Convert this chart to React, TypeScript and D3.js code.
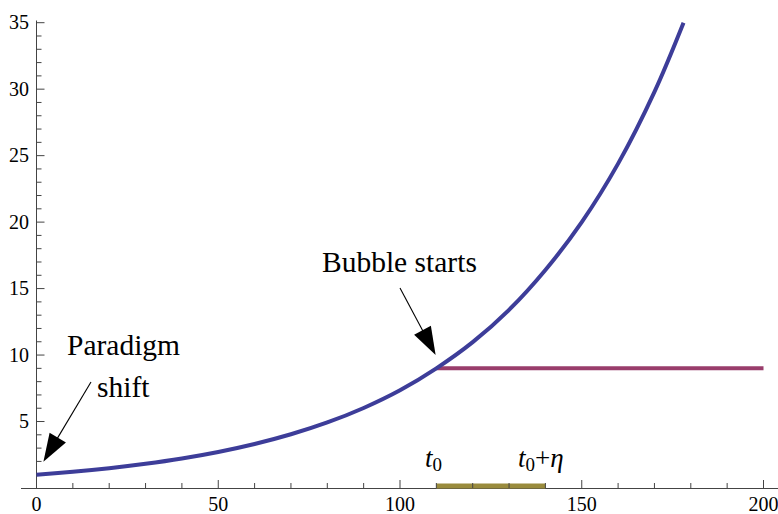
import React from "react";
import * as d3 from "d3";

const growthT = [0, 10, 20, 30, 40, 50, 60, 70, 80, 90, 100, 110, 120, 130, 140, 150, 160, 170, 178];
const growthV = [1.0, 1.22, 1.49, 1.82, 2.22, 2.71, 3.31, 4.04, 4.93, 6.02, 7.35, 9.0, 10.97, 13.4, 16.4, 20.0, 24.4, 29.8, 35.0];
const flatT = [110, 200];
const flatV = [9, 9];
const bandT = [110, 140];
const xMajor = [0, 50, 100, 150, 200];
const yMajor = [5, 10, 15, 20, 25, 30, 35];

const W = 778;
const H = 514;
const FONT = "'Liberation Serif', 'Times New Roman', serif";

export default function App() {
  const x = d3.scaleLinear().domain([0, 200]).range([36.5, 763.5]);
  const y = d3.scaleLinear().domain([0, 35]).range([488, 22.7]);
  const xMinor = d3.range(0, 201, 10).filter((v) => !xMajor.includes(v));
  const yMinor = d3.range(1, 35, 1).filter((v) => !yMajor.includes(v));

  const line = d3
    .line<number>()
    .x((_, i) => x(growthT[i]))
    .y((d) => y(d))
    .curve(d3.curveCatmullRom.alpha(0.5));
  const flat = d3
    .line<number>()
    .x((_, i) => x(flatT[i]))
    .y((d) => y(d));

  const axisColor = "#444";

  const arrow = (x1: number, y1: number, x2: number, y2: number, headLen: number, headW: number) => {
    const dx = x2 - x1;
    const dy = y2 - y1;
    const L = Math.hypot(dx, dy);
    const ux = dx / L;
    const uy = dy / L;
    const bx = x2 - ux * headLen;
    const by = y2 - uy * headLen;
    const px = (-uy * headW) / 2;
    const py = (ux * headW) / 2;
    return (
      <g>
        <line x1={x1} y1={y1} x2={bx + ux * 2} y2={by + uy * 2} stroke="#000" strokeWidth={1.1} />
        <path d={`M${x2},${y2}L${bx + px},${by + py}L${bx - px},${by - py}Z`} fill="#000" />
      </g>
    );
  };

  return (
    <svg width={W} height={H} style={{ position: "absolute", left: 0, top: 0, background: "#fff" }} fontFamily={FONT}>
      {/* axes */}
      <line x1={21} x2={778} y1={y(0) + 0.5} y2={y(0) + 0.5} stroke={axisColor} strokeWidth={1} />
      <line x1={x(0)} x2={x(0)} y1={20.5} y2={y(0) + 0.5} stroke={axisColor} strokeWidth={1} />

      {/* band on axis */}
      <rect
        x={x(bandT[0])}
        width={x(bandT[1]) - x(bandT[0])}
        y={y(0) - 4.5}
        height={5}
        fill="#998B3D"
      />

      {/* x ticks */}
      {xMajor.map((v) => (
        <g key={"xm" + v}>
          <line x1={x(v)} x2={x(v)} y1={y(0)} y2={y(0) - 8} stroke={axisColor} strokeWidth={1} />
          <text x={x(v)} y={511} textAnchor="middle" fontSize={20} fill="#000">
            {v}
          </text>
        </g>
      ))}
      {xMinor.map((v) => (
        <line key={"xn" + v} x1={x(v)} x2={x(v)} y1={y(0)} y2={y(0) - 5} stroke={axisColor} strokeWidth={1} />
      ))}

      {/* y ticks */}
      {yMajor.map((v) => (
        <g key={"ym" + v}>
          <line x1={x(0)} x2={x(0) + 8} y1={y(v)} y2={y(v)} stroke={axisColor} strokeWidth={1} />
          <text x={29} y={y(v) + 6.5} textAnchor="end" fontSize={20} fill="#000">
            {v}
          </text>
        </g>
      ))}
      {yMinor.map((v) => (
        <line key={"yn" + v} x1={x(0)} x2={x(0) + 5} y1={y(v)} y2={y(v)} stroke={axisColor} strokeWidth={1} />
      ))}

      {/* series */}
      <path d={flat(flatV) || ""} fill="none" stroke="#993D6B" strokeWidth={4} />
      <path d={line(growthV) || ""} fill="none" stroke="#3D3D99" strokeWidth={4} />

      {/* annotations */}
      <text x={322} y={272} fontSize={29.5} fill="#000">Bubble starts</text>
      {arrow(400, 288, x(109.8), y(10.0), 28, 19)}

      <text x={67} y={355} fontSize={29.5} fill="#000">Paradigm</text>
      <text x={97} y={397} fontSize={29.5} fill="#000">shift</text>
      {arrow(91, 382, x(1.9), y(1.98), 28, 19)}

      <text x={425} y={467} fontSize={27} fontStyle="italic" fill="#000">
        t<tspan fontStyle="normal" fontSize={19} dy={4}>0</tspan>
      </text>
      <text x={518} y={467} fontSize={27} fontStyle="italic" fill="#000">
        t<tspan fontStyle="normal" fontSize={19} dy={4}>0</tspan>
        <tspan fontStyle="normal" dy={-4}>+</tspan>
        <tspan>η</tspan>
      </text>
    </svg>
  );
}
